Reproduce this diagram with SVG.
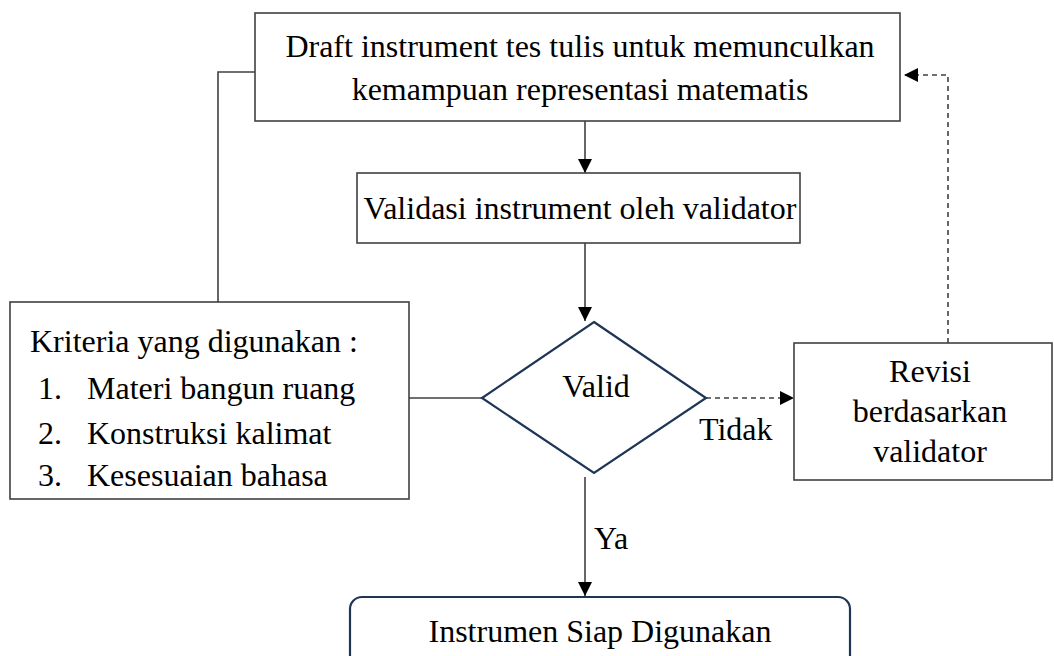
<svg xmlns="http://www.w3.org/2000/svg" width="1054" height="656" viewBox="0 0 1054 656">
<style>
  .box { fill: #ffffff; stroke: #404040; stroke-width: 1.6; }
  .navy { fill: #ffffff; stroke: #1f3556; stroke-width: 2.2; }
  .t { font-family: "Liberation Serif", "Times New Roman", serif; font-size: 32px; fill: #000000; }
  .c { text-anchor: middle; }
  .line { fill: none; stroke: #404040; stroke-width: 1.6; }
  .dash { fill: none; stroke: #404040; stroke-width: 1.6; stroke-dasharray: 5 4; }
</style>
<defs>
  <marker id="arr" viewBox="0 0 14 14" refX="14" refY="7" markerWidth="14" markerHeight="14" markerUnits="userSpaceOnUse" orient="auto">
    <path d="M0,0 L14,7 L0,14 Z" fill="#000000"/>
  </marker>
</defs>
<rect width="1054" height="656" fill="#ffffff"/>

<g id="connectors">
  <path class="line" d="M255,72 H218 V302"/>
  <path class="line" d="M585,121 V173" marker-end="url(#arr)"/>
  <path class="line" d="M585,243 V321" marker-end="url(#arr)"/>
  <path class="line" d="M409,398 H482"/>
  <path class="dash" d="M706,398 H794" marker-end="url(#arr)"/>
  <path class="dash" d="M948,343 V75 H904" marker-end="url(#arr)"/>
  <path class="line" d="M585,477 V596" marker-end="url(#arr)"/>
  <text class="t" x="699" y="440">Tidak</text>
  <text class="t" x="594" y="549">Ya</text>
</g>

<g id="draft">
  <rect class="box" x="255" y="13" width="645" height="108"/>
  <text class="t c" x="580" y="57">Draft instrument tes tulis untuk memunculkan</text>
  <text class="t c" x="580" y="100">kemampuan representasi matematis</text>
</g>

<g id="validasi">
  <rect class="box" x="357" y="173" width="443" height="70"/>
  <text class="t c" x="580" y="219">Validasi instrument oleh validator</text>
</g>

<g id="kriteria">
  <rect class="box" x="10" y="302" width="399" height="197"/>
  <text class="t" x="30" y="352">Kriteria yang digunakan :</text>
  <text class="t" x="38" y="399">1.</text>
  <text class="t" x="87" y="399">Materi bangun ruang</text>
  <text class="t" x="38" y="444">2.</text>
  <text class="t" x="87" y="444">Konstruksi kalimat</text>
  <text class="t" x="38" y="486">3.</text>
  <text class="t" x="87" y="486">Kesesuaian bahasa</text>
</g>

<g id="valid">
  <polygon class="navy" points="594,322 706,398 594,473 482,398"/>
  <text class="t c" x="596" y="397">Valid</text>
</g>

<g id="revisi">
  <rect class="box" x="794" y="343" width="258" height="137"/>
  <text class="t c" x="930" y="382">Revisi</text>
  <text class="t c" x="930" y="422">berdasarkan</text>
  <text class="t c" x="930" y="462">validator</text>
</g>

<g id="siap">
  <rect class="navy" x="350" y="597" width="500" height="75" rx="12" ry="12"/>
  <text class="t c" x="600" y="642">Instrumen Siap Digunakan</text>
</g>
</svg>
